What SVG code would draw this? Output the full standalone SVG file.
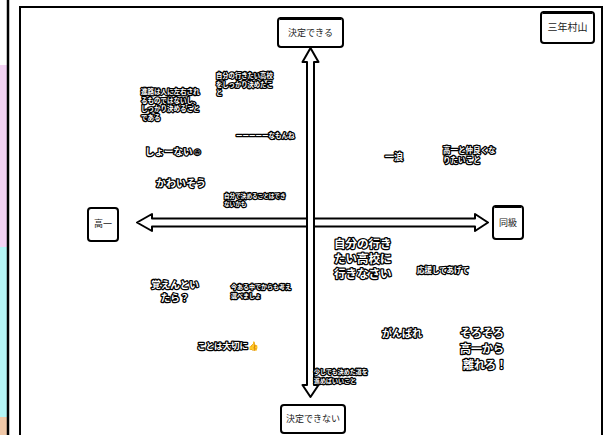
<svg xmlns="http://www.w3.org/2000/svg" width="611" height="435" viewBox="0 0 611 435">
<style>
.box{fill:#fff;stroke:#000;stroke-width:2}
.bt{font-family:"Noto Sans CJK JP","Noto Sans",sans-serif;font-size:9px;fill:#222;text-anchor:middle}
.st{font-family:"Noto Sans CJK JP","Noto Sans",sans-serif;font-weight:bold;fill:#fff;stroke:#000;stroke-width:2.5;paint-order:stroke;stroke-linejoin:round}
.arrow{fill:#fff;stroke:#000;stroke-width:2;stroke-linejoin:round}
</style>
<rect width="611" height="435" fill="#fff"/>
<g id="strip">
<rect x="0" y="65" width="8" height="182" fill="#f3d2f3"/>
<rect x="0" y="247" width="8" height="170" fill="#b4f4f4"/>
<rect x="0" y="417" width="8" height="18" fill="#f0c8a8"/>
<line x1="8" y1="0" x2="8" y2="435" stroke="#000" stroke-width="2.5"/>
</g>
<rect x="20" y="7" width="582" height="440" fill="#fff" stroke="#000" stroke-width="2"/>
<g id="connectors">
<polygon class="arrow" points="137,222.5 152,214 152,218.5 475,218.5 475,214 488,222.5 475,231 475,226.5 152,226.5 152,231"/>
<polygon class="arrow" points="310.5,48 318.5,62 314,62 314,385 318.5,385 310.5,397 302.5,385 307,385 307,62 302.5,62"/>
</g>
<g id="n-top">
<rect class="box" x="278" y="18" width="65" height="29" rx="3"/>
<line x1="280" y1="18.5" x2="341" y2="18.5" stroke="#000" stroke-width="3"/>
<text class="bt" x="310.5" y="36">決定できる</text>
</g>
<g id="n-bottom">
<rect class="box" x="281" y="405" width="64" height="28" rx="3"/>
<text class="bt" x="313" y="422">決定できない</text>
</g>
<g id="n-left">
<rect class="box" x="88" y="208" width="30" height="33" rx="3"/>
<text class="bt" x="103" y="227">高一</text>
</g>
<g id="n-right">
<rect class="box" x="493" y="206" width="30" height="33" rx="3"/>
<line x1="495" y1="206.5" x2="521" y2="206.5" stroke="#000" stroke-width="3"/>
<text class="bt" x="508" y="226">同級</text>
</g>
<g id="n-name">
<rect class="box" x="541" y="12" width="53" height="31" rx="3"/>
<line x1="543" y1="12.5" x2="592" y2="12.5" stroke="#000" stroke-width="3"/>
<text class="bt" x="567.5" y="31" style="font-size:10px">三年村山</text>
</g>
<g id="t1"><text class="st" style="font-size:6.5px"><tspan x="141" y="94">進路は人に左右され</tspan><tspan x="141" y="102.5">るものではないし、</tspan><tspan x="141" y="111">しっかり決めること</tspan><tspan x="141" y="119.5">である</tspan></text></g>
<g id="t2"><text class="st" style="font-size:6.3px"><tspan x="216" y="78">自分の行きたい高校</tspan><tspan x="216" y="86.5">をしっかり決めたこ</tspan><tspan x="216" y="95">と</tspan></text></g>
<g id="t3"><text class="st" x="236" y="138" style="font-size:6.5px">ーーーーーなもんね</text></g>
<g id="t4"><text class="st" x="145" y="155" style="font-size:9.5px">しょーない☺</text></g>
<g id="t5"><text class="st" x="156" y="187" style="font-size:10px">かわいそう</text></g>
<g id="t6"><text class="st" style="font-size:5.6px"><tspan x="224" y="198">自分で決めることはでき</tspan><tspan x="224" y="205.5">ないかも</tspan></text></g>
<g id="t7"><text class="st" x="385" y="160" style="font-size:9px">一浪</text></g>
<g id="t8"><text class="st" style="font-size:7.5px"><tspan x="443" y="153">高一と仲良くな</tspan><tspan x="443" y="162.5">りたいこと</tspan></text></g>
<g id="t9"><text class="st" style="font-size:11.5px"><tspan x="334" y="248">自分の行き</tspan><tspan x="334" y="263">たい高校に</tspan><tspan x="334" y="278">行きなさい</tspan></text></g>
<g id="t10"><text class="st" x="417" y="273" style="font-size:7.5px">応援してあげて</text></g>
<g id="t11"><text class="st" style="font-size:9.5px;text-anchor:middle"><tspan x="175" y="288">覚えんとい</tspan><tspan x="175" y="301">たら？</tspan></text></g>
<g id="t12"><text class="st" style="font-size:6px"><tspan x="231" y="289">今ある中でからも考え</tspan><tspan x="231" y="297.5">選べましょ</tspan></text></g>
<g id="t13"><text class="st" x="197" y="349" style="font-size:8.5px">ことは大切に👍</text></g>
<g id="t14"><text class="st" x="382" y="337" style="font-size:10px">がんばれ</text></g>
<g id="t15"><text class="st" style="font-size:11px;text-anchor:middle"><tspan x="482" y="337">そろそろ</tspan><tspan x="482" y="353">高一から</tspan><tspan x="485" y="369">離れろ！</tspan></text></g>
<g id="t16"><text class="st" style="font-size:6px"><tspan x="314" y="374">少しでも決めた道を</tspan><tspan x="314" y="382.5">進めばいいこと</tspan></text></g>
</svg>
